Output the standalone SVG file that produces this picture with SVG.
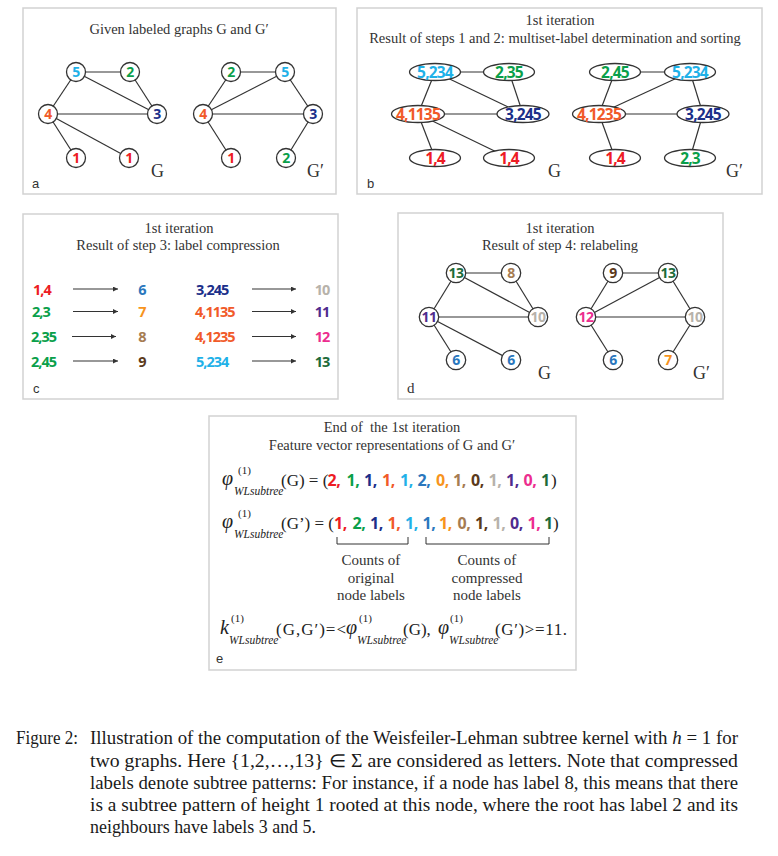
<svg xmlns="http://www.w3.org/2000/svg" width="778" height="856" viewBox="0 0 778 856">
<defs>
<marker id="ah" viewBox="0 0 6 6" refX="6" refY="3" markerWidth="5" markerHeight="5" markerUnits="userSpaceOnUse" orient="auto"><path d="M0,0 L6,3 L0,6 z" fill="#333"/></marker>
</defs>
<style>
.box{fill:#fff;stroke:#d2d2d2;stroke-width:1.5}
.ttl{font-family:"Liberation Serif",serif;font-size:14.5px;fill:#333;text-anchor:middle}
.edge{stroke:#333;stroke-width:1.2;fill:none}
.nd{fill:#fff;stroke:#333;stroke-width:1.3}
.lb{font-family:"Open Sans","Noto Sans",sans-serif;font-weight:bold;font-size:14px;text-anchor:middle;letter-spacing:-0.6px}
.el{font-family:"Open Sans","Noto Sans",sans-serif;font-weight:bold;font-size:15.5px;text-anchor:middle;letter-spacing:-0.8px}
.cn{font-family:"Open Sans","Noto Sans",sans-serif;font-weight:bold;font-size:14.5px;text-anchor:middle;letter-spacing:-1px}
.cl{font-family:"Open Sans","Noto Sans",sans-serif;font-weight:bold;font-size:14.5px;letter-spacing:-1px}
.gl{font-family:"Liberation Serif",serif;font-size:18px;fill:#333}
.pl{font-family:"Liberation Sans",sans-serif;font-size:13px;fill:#333}
.arr{stroke:#333;stroke-width:1.2;marker-end:url(#ah)}
.m{font-family:"Liberation Serif",serif;font-size:17px;fill:#222}
.mi{font-family:"Liberation Serif",serif;font-size:20px;font-style:italic;fill:#222}
.sup{font-family:"Liberation Serif",serif;font-size:11px;fill:#222}
.sub{font-family:"Liberation Serif",serif;font-size:11.5px;font-style:italic;fill:#222}
.vd{font-family:"Open Sans","Noto Sans",sans-serif;font-weight:bold;font-size:16px;letter-spacing:-0.5px}
.cnt{font-family:"Liberation Serif",serif;font-size:15px;fill:#333;text-anchor:middle}
.cap{font-family:"Liberation Serif",serif;font-size:18px;fill:#1a1a1a}
.c1{fill:#ed1c24}.c2{fill:#0a9f4a}.c3{fill:#1b2f8a}.c4{fill:#f15a29}.c5{fill:#1fb1e8}.c6{fill:#2a77bd}.c7{fill:#f7941d}.c8{fill:#a67c52}.c9{fill:#5b3a1b}.c10{fill:#b7b2aa}.c11{fill:#4f2b8e}.c12{fill:#ec2d8e}.c13{fill:#1d6b3a}
</style>
<rect width="778" height="856" fill="#fff"/>

<!-- Panel a -->
<g id="panel-a">
<rect class="box" x="23" y="8" width="313" height="186"/>
<text class="ttl" x="179" y="34">Given labeled graphs G and G′</text>
<text class="pl" x="32" y="188">a</text>
<text class="gl" x="151" y="177">G</text>
<text class="gl" x="307" y="177">G′</text>
</g>
<g id="connectors-a">
<line class="edge" x1="76" y1="72" x2="130" y2="72"/>
<line class="edge" x1="76" y1="72" x2="48" y2="114"/>
<line class="edge" x1="76" y1="72" x2="157" y2="114"/>
<line class="edge" x1="130" y1="72" x2="157" y2="114"/>
<line class="edge" x1="48" y1="114" x2="157" y2="114"/>
<line class="edge" x1="48" y1="114" x2="76" y2="158"/>
<line class="edge" x1="48" y1="114" x2="129" y2="158"/>
<line class="edge" x1="231" y1="72" x2="285" y2="72"/>
<line class="edge" x1="231" y1="72" x2="203" y2="114"/>
<line class="edge" x1="285" y1="72" x2="203" y2="114"/>
<line class="edge" x1="285" y1="72" x2="313" y2="114"/>
<line class="edge" x1="203" y1="114" x2="313" y2="114"/>
<line class="edge" x1="203" y1="114" x2="231" y2="158"/>
<line class="edge" x1="313" y1="114" x2="286" y2="158"/>
</g>
<g id="a-G-5"><circle class="nd" cx="76" cy="72" r="9.5"/><text class="lb c5" x="76" y="77">5</text></g>
<g id="a-G-2"><circle class="nd" cx="130" cy="72" r="9.5"/><text class="lb c2" x="130" y="77">2</text></g>
<g id="a-G-4"><circle class="nd" cx="48" cy="114" r="9.5"/><text class="lb c4" x="48" y="119">4</text></g>
<g id="a-G-3"><circle class="nd" cx="157" cy="114" r="9.5"/><text class="lb c3" x="157" y="119">3</text></g>
<g id="a-G-1a"><circle class="nd" cx="76" cy="158" r="9.5"/><text class="lb c1" x="76" y="163">1</text></g>
<g id="a-G-1b"><circle class="nd" cx="129" cy="158" r="9.5"/><text class="lb c1" x="129" y="163">1</text></g>
<g id="a-H-2"><circle class="nd" cx="231" cy="72" r="9.5"/><text class="lb c2" x="231" y="77">2</text></g>
<g id="a-H-5"><circle class="nd" cx="285" cy="72" r="9.5"/><text class="lb c5" x="285" y="77">5</text></g>
<g id="a-H-4"><circle class="nd" cx="203" cy="114" r="9.5"/><text class="lb c4" x="203" y="119">4</text></g>
<g id="a-H-3"><circle class="nd" cx="313" cy="114" r="9.5"/><text class="lb c3" x="313" y="119">3</text></g>
<g id="a-H-1"><circle class="nd" cx="231" cy="158" r="9.5"/><text class="lb c1" x="231" y="163">1</text></g>
<g id="a-H-2b"><circle class="nd" cx="286" cy="158" r="9.5"/><text class="lb c2" x="286" y="163">2</text></g>

<!-- Panel b -->
<g id="panel-b">
<rect class="box" x="357" y="8" width="405" height="186"/>
<text class="ttl" x="560" y="24.5">1st iteration</text>
<text class="ttl" x="555" y="42.5">Result of steps 1 and 2: multiset-label determination and sorting</text>
<text class="pl" x="367" y="188">b</text>
<text class="gl" x="548" y="177">G</text>
<text class="gl" x="726" y="177">G′</text>
</g>
<g id="connectors-b">
<line class="edge" x1="435" y1="72" x2="509" y2="72"/>
<line class="edge" x1="435" y1="72" x2="418" y2="114"/>
<line class="edge" x1="435" y1="72" x2="523" y2="114"/>
<line class="edge" x1="509" y1="72" x2="523" y2="114"/>
<line class="edge" x1="418" y1="114" x2="523" y2="114"/>
<line class="edge" x1="418" y1="114" x2="435" y2="158"/>
<line class="edge" x1="418" y1="114" x2="509" y2="158"/>
<line class="edge" x1="615" y1="72" x2="690" y2="72"/>
<line class="edge" x1="615" y1="72" x2="599" y2="114"/>
<line class="edge" x1="690" y1="72" x2="599" y2="114"/>
<line class="edge" x1="690" y1="72" x2="703" y2="114"/>
<line class="edge" x1="599" y1="114" x2="703" y2="114"/>
<line class="edge" x1="599" y1="114" x2="615" y2="158"/>
<line class="edge" x1="703" y1="114" x2="690" y2="158"/>
</g>
<g id="b-G-5"><ellipse class="nd" cx="435" cy="72" rx="25.5" ry="8.5"/><text class="el c5" x="435" y="77.6">5,234</text></g>
<g id="b-G-2"><ellipse class="nd" cx="509" cy="72" rx="25.5" ry="8.5"/><text class="el c2" x="509" y="77.6">2,35</text></g>
<g id="b-G-4"><ellipse class="nd" cx="418" cy="114" rx="26.5" ry="8.5"/><text class="el c4" x="418" y="119.6">4,1135</text></g>
<g id="b-G-3"><ellipse class="nd" cx="523" cy="114" rx="26" ry="8.5"/><text class="el c3" x="523" y="119.6">3,245</text></g>
<g id="b-G-1a"><ellipse class="nd" cx="435" cy="158" rx="25.5" ry="8.5"/><text class="el c1" x="435" y="163.6">1,4</text></g>
<g id="b-G-1b"><ellipse class="nd" cx="509" cy="158" rx="25.5" ry="8.5"/><text class="el c1" x="509" y="163.6">1,4</text></g>
<g id="b-H-2"><ellipse class="nd" cx="615" cy="72" rx="25.5" ry="8.5"/><text class="el c2" x="615" y="77.6">2,45</text></g>
<g id="b-H-5"><ellipse class="nd" cx="690" cy="72" rx="25.5" ry="8.5"/><text class="el c5" x="690" y="77.6">5,234</text></g>
<g id="b-H-4"><ellipse class="nd" cx="599" cy="114" rx="26.5" ry="8.5"/><text class="el c4" x="599" y="119.6">4,1235</text></g>
<g id="b-H-3"><ellipse class="nd" cx="703" cy="114" rx="26" ry="8.5"/><text class="el c3" x="703" y="119.6">3,245</text></g>
<g id="b-H-1"><ellipse class="nd" cx="615" cy="158" rx="25.5" ry="8.5"/><text class="el c1" x="615" y="163.6">1,4</text></g>
<g id="b-H-2b"><ellipse class="nd" cx="690" cy="158" rx="25.5" ry="8.5"/><text class="el c2" x="690" y="163.6">2,3</text></g>

<!-- Panel c -->
<g id="panel-c">
<rect class="box" x="23" y="214" width="315" height="185"/>
<text class="ttl" x="179" y="232.5">1st iteration</text>
<text class="ttl" x="178" y="249.5">Result of step 3: label compression</text>
<text class="pl" x="33" y="393">c</text>
<text class="cl c1" x="33" y="294.5">1,4</text>
<text class="cl c2" x="32" y="317">2,3</text>
<text class="cl c2" x="31" y="342">2,35</text>
<text class="cl c2" x="31" y="366.5">2,45</text>
<text class="cn c6" x="142" y="294.5">6</text>
<text class="cn c7" x="142" y="317">7</text>
<text class="cn c8" x="142" y="342">8</text>
<text class="cn c9" x="142" y="366.5">9</text>
<text class="cl c3" x="196" y="294.5">3,245</text>
<text class="cl c4" x="195" y="317">4,1135</text>
<text class="cl c4" x="195" y="342">4,1235</text>
<text class="cl c5" x="196" y="366.5">5,234</text>
<text class="cn c10" x="322" y="294.5">10</text>
<text class="cn c11" x="322" y="317">11</text>
<text class="cn c12" x="322" y="342">12</text>
<text class="cn c13" x="322" y="366.5">13</text>
</g>
<g id="connectors-c">
<line class="arr" x1="73" y1="289" x2="118" y2="289"/>
<line class="arr" x1="73" y1="311.5" x2="118" y2="311.5"/>
<line class="arr" x1="72" y1="336.5" x2="116" y2="336.5"/>
<line class="arr" x1="73" y1="361" x2="118" y2="361"/>
<line class="arr" x1="252" y1="289" x2="296" y2="289"/>
<line class="arr" x1="252" y1="311.5" x2="296" y2="311.5"/>
<line class="arr" x1="252" y1="336.5" x2="296" y2="336.5"/>
<line class="arr" x1="252" y1="361" x2="296" y2="361"/>
</g>

<!-- Panel d -->
<g id="panel-d">
<rect class="box" x="398" y="213" width="325" height="186"/>
<text class="ttl" x="560" y="232.5">1st iteration</text>
<text class="ttl" x="560" y="249.5">Result of step 4: relabeling</text>
<text class="gl" x="407" y="393" style="font-size:15px">d</text>
<text class="gl" x="538" y="379">G</text>
<text class="gl" x="693" y="379">G′</text>
</g>
<g id="connectors-d">
<line class="edge" x1="456" y1="273" x2="511" y2="273"/>
<line class="edge" x1="456" y1="273" x2="429" y2="317"/>
<line class="edge" x1="456" y1="273" x2="538" y2="317"/>
<line class="edge" x1="511" y1="273" x2="538" y2="317"/>
<line class="edge" x1="429" y1="317" x2="538" y2="317"/>
<line class="edge" x1="429" y1="317" x2="456" y2="360"/>
<line class="edge" x1="429" y1="317" x2="511" y2="360"/>
<line class="edge" x1="613" y1="273" x2="668" y2="273"/>
<line class="edge" x1="613" y1="273" x2="586" y2="317"/>
<line class="edge" x1="668" y1="273" x2="586" y2="317"/>
<line class="edge" x1="668" y1="273" x2="695" y2="317"/>
<line class="edge" x1="586" y1="317" x2="695" y2="317"/>
<line class="edge" x1="586" y1="317" x2="613" y2="360"/>
<line class="edge" x1="695" y1="317" x2="668" y2="360"/>
</g>
<g id="d-G-13"><circle class="nd" cx="456" cy="273" r="9.7"/><text class="lb c13" x="456" y="278">13</text></g>
<g id="d-G-8"><circle class="nd" cx="511" cy="273" r="9.7"/><text class="lb c8" x="511" y="278">8</text></g>
<g id="d-G-11"><circle class="nd" cx="429" cy="317" r="9.7"/><text class="lb c11" x="429" y="322">11</text></g>
<g id="d-G-10"><circle class="nd" cx="538" cy="317" r="9.7"/><text class="lb c10" x="538" y="322">10</text></g>
<g id="d-G-6a"><circle class="nd" cx="456" cy="360" r="9.7"/><text class="lb c6" x="456" y="365">6</text></g>
<g id="d-G-6b"><circle class="nd" cx="511" cy="360" r="9.7"/><text class="lb c6" x="511" y="365">6</text></g>
<g id="d-H-9"><circle class="nd" cx="613" cy="273" r="9.7"/><text class="lb c9" x="613" y="278">9</text></g>
<g id="d-H-13"><circle class="nd" cx="668" cy="273" r="9.7"/><text class="lb c13" x="668" y="278">13</text></g>
<g id="d-H-12"><circle class="nd" cx="586" cy="317" r="9.7"/><text class="lb c12" x="586" y="322">12</text></g>
<g id="d-H-10"><circle class="nd" cx="695" cy="317" r="9.7"/><text class="lb c10" x="695" y="322">10</text></g>
<g id="d-H-6"><circle class="nd" cx="613" cy="360" r="9.7"/><text class="lb c6" x="613" y="365">6</text></g>
<g id="d-H-7"><circle class="nd" cx="668" cy="360" r="9.7"/><text class="lb c7" x="668" y="365">7</text></g>

<!-- Panel e -->
<g id="panel-e">
<rect class="box" x="209" y="416" width="367" height="254"/>
<text class="ttl" x="392" y="431.5" xml:space="preserve">End of  the 1st iteration</text>
<text class="ttl" x="392" y="449.5">Feature vector representations of G and G′</text>
<text class="pl" x="216" y="663">e</text>

<text class="mi" x="222" y="485">φ</text>
<text class="sup" x="238" y="474">(1)</text>
<text class="sub" x="234" y="495">WLsubtree</text>
<text class="m" x="281" y="486">(G) = (</text>
<text class="vd" y="486"><tspan class="c1" x="327.5">2,</tspan><tspan class="c2" x="346.5">1,</tspan><tspan class="c3" x="364">1,</tspan><tspan class="c4" x="382">1,</tspan><tspan class="c5" x="400">1,</tspan><tspan class="c6" x="417.5">2,</tspan><tspan class="c7" x="436">0,</tspan><tspan class="c8" x="453">1,</tspan><tspan class="c9" x="471">0,</tspan><tspan class="c10" x="488.5">1,</tspan><tspan class="c11" x="506">1,</tspan><tspan class="c12" x="523.5">0,</tspan><tspan class="c13" x="541">1</tspan></text>
<text class="m" x="551" y="486">)</text>

<text class="mi" x="222" y="528">φ</text>
<text class="sup" x="238" y="517">(1)</text>
<text class="sub" x="234" y="538">WLsubtree</text>
<text class="m" x="281" y="529">(G’) = (</text>
<text class="vd" y="529"><tspan class="c1" x="334">1,</tspan><tspan class="c2" x="352.5">2,</tspan><tspan class="c3" x="370">1,</tspan><tspan class="c4" x="387.5">1,</tspan><tspan class="c5" x="405">1,</tspan><tspan class="c6" x="422.5">1,</tspan><tspan class="c7" x="439">1,</tspan><tspan class="c8" x="457.5">0,</tspan><tspan class="c9" x="475">1,</tspan><tspan class="c10" x="492.5">1,</tspan><tspan class="c11" x="510">0,</tspan><tspan class="c12" x="527.5">1,</tspan><tspan class="c13" x="544">1</tspan></text>
<text class="m" x="553" y="529">)</text>

<path class="edge" d="M337,537 V544 H408 V537" style="stroke-width:1"/>
<path class="edge" d="M426,537 V544 H549 V537" style="stroke-width:1"/>
<text class="cnt" x="371" y="565">Counts of</text>
<text class="cnt" x="371" y="582.5">original</text>
<text class="cnt" x="371" y="600">node labels</text>
<text class="cnt" x="487" y="565">Counts of</text>
<text class="cnt" x="487" y="582.5">compressed</text>
<text class="cnt" x="487" y="600">node labels</text>

<text class="mi" x="220" y="634">k</text>
<text class="sup" x="231" y="622">(1)</text>
<text class="sub" x="229" y="644">WLsubtree</text>
<text class="m" x="276" y="635" textLength="70">(G,G′)=&lt;</text>
<text class="mi" x="346" y="634">φ</text>
<text class="sup" x="359" y="622">(1)</text>
<text class="sub" x="357" y="644">WLsubtree</text>
<text class="m" x="403" y="635">(G),</text>
<text class="mi" x="438" y="634">φ</text>
<text class="sup" x="450" y="622">(1)</text>
<text class="sub" x="449" y="644">WLsubtree</text>
<text class="m" x="495" y="635" textLength="72">(G′)&gt;=11.</text>
</g>

<!-- Caption -->
<g id="caption">
<text class="cap" x="16" y="744" textLength="62" lengthAdjust="spacingAndGlyphs">Figure 2:</text>
<text class="cap" x="90" y="744" textLength="648" lengthAdjust="spacingAndGlyphs">Illustration of the computation of the Weisfeiler-Lehman subtree kernel with <tspan font-style="italic">h</tspan> = 1 for</text>
<text class="cap" x="90" y="766.5" textLength="648" lengthAdjust="spacingAndGlyphs">two graphs.  Here {1,2,…,13} ∈ Σ are considered as letters.  Note that compressed</text>
<text class="cap" x="90" y="789" textLength="648" lengthAdjust="spacingAndGlyphs">labels denote subtree patterns: For instance, if a node has label 8, this means that there</text>
<text class="cap" x="90" y="811" textLength="648" lengthAdjust="spacingAndGlyphs">is a subtree pattern of height 1 rooted at this node, where the root has label 2 and its</text>
<text class="cap" x="90" y="833" textLength="226" lengthAdjust="spacingAndGlyphs">neighbours have labels 3 and 5.</text>
</g>
</svg>
